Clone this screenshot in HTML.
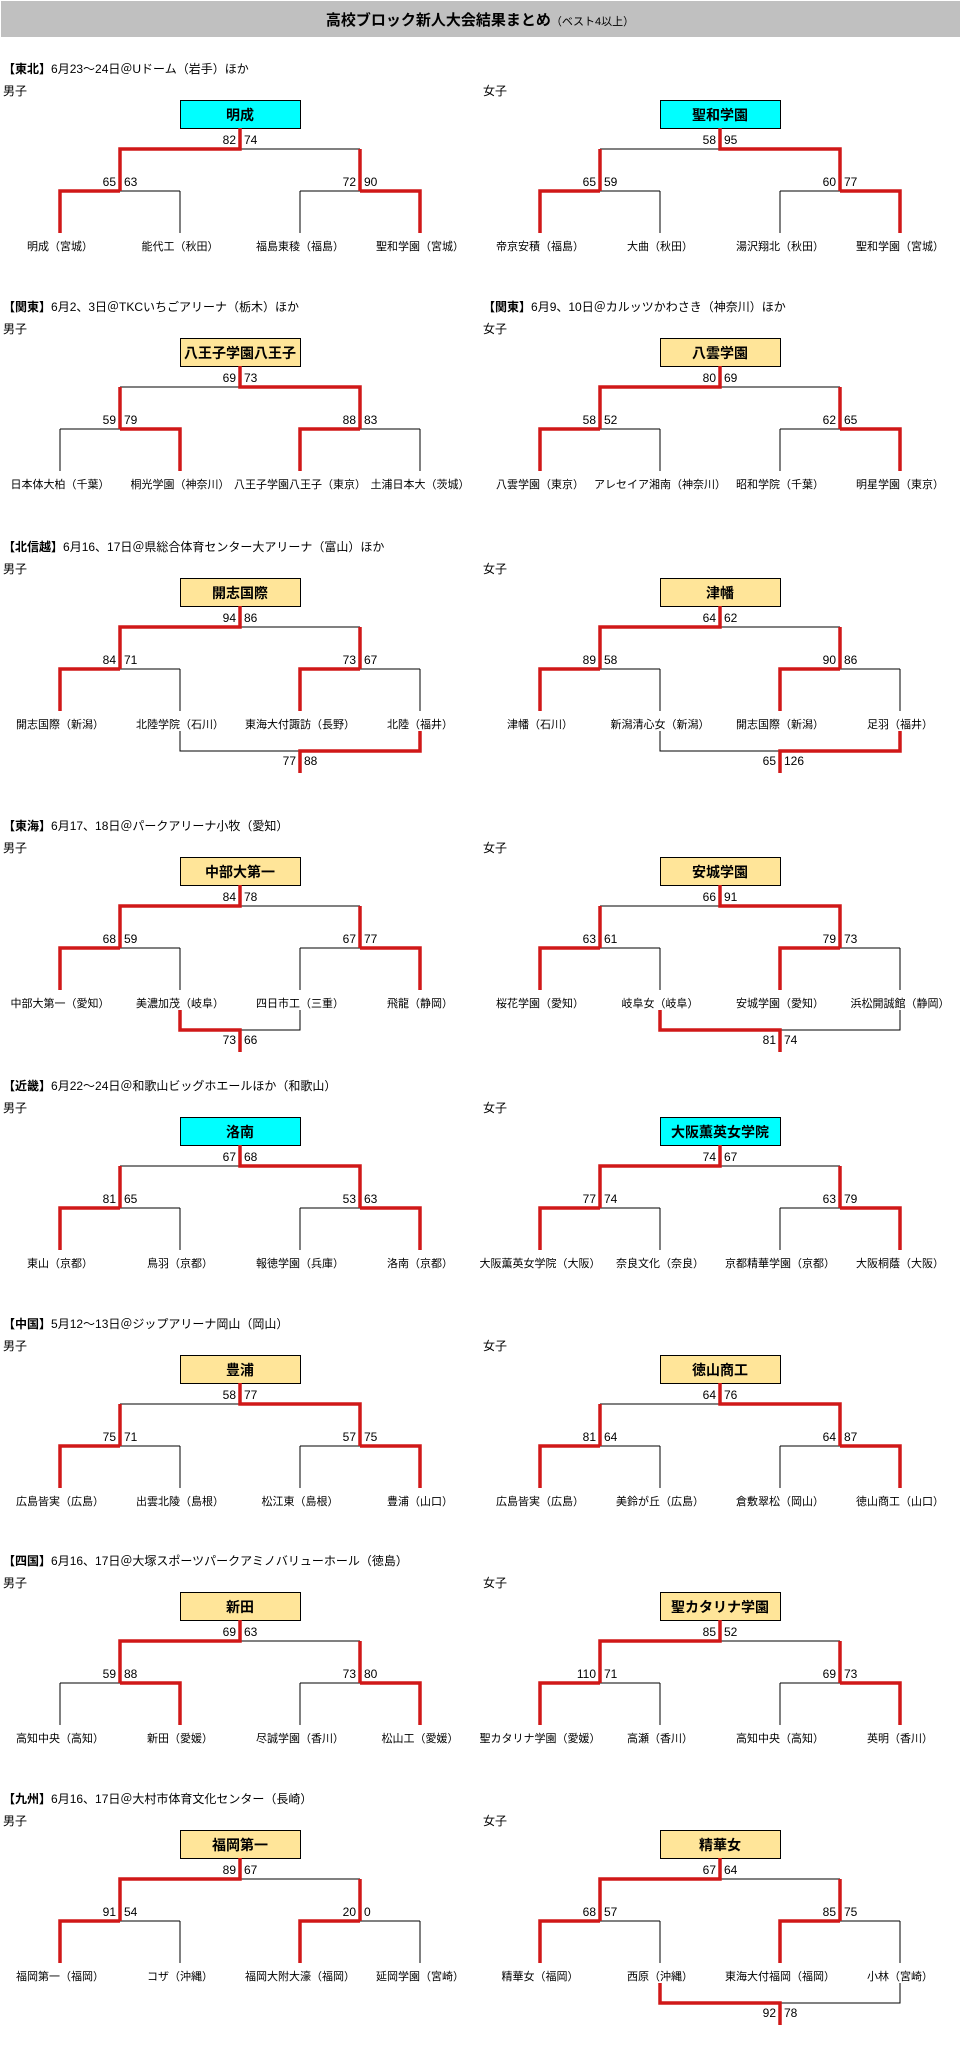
<!DOCTYPE html>
<html><head><meta charset="utf-8"><style>
html,body{margin:0;padding:0;background:#fff;}
svg{display:block;font-family:"Liberation Sans","Noto Sans CJK JP",sans-serif;}
.t{font-size:12px;fill:#000}
.n{font-size:11px;fill:#000;text-anchor:middle}
.s{font-size:12px;fill:#000}
.e{text-anchor:end}
.b{font-size:14px;font-weight:bold;text-anchor:middle}
.k{fill:none;stroke:#000;stroke-width:1}
.r{fill:none;stroke:#d01818;stroke-width:3.5}
.c{fill:#00ffff;stroke:#000}
.y{fill:#ffe599;stroke:#000}
</style></head><body>
<svg width="961" height="2047" viewBox="0 0 961 2047" xmlns="http://www.w3.org/2000/svg">
<rect x="1" y="1" width="959" height="36" fill="#c0c0c0"/>
<text x="480" y="25" text-anchor="middle"><tspan font-size="15" font-weight="bold">高校ブロック新人大会結果まとめ</tspan><tspan font-size="11">（ベスト4以上）</tspan></text>

<!-- 東北 -->
<g transform="translate(0,0)">
<text class="t" x="3" y="73"><tspan font-weight="bold">【東北】</tspan>6月23～24日＠Uドーム（岩手）ほか</text>
<text class="t" x="3" y="95">男子</text>
<g>
<rect class="c" x="180.5" y="100.5" width="120" height="28"/><text class="b" x="240" y="120">明成</text>
<path class="k" d="M120 149H360M60 191H180M300 191H420M60 191V233M180 191V233M300 191V233M420 191V233"/>
<path class="r" d="M240 128V149H120V191M360 149V191M120 191H60V233M360 191H420V233"/>
<text class="s e" x="236" y="144">82</text><text class="s" x="244" y="144">74</text>
<text class="s e" x="116" y="186">65</text><text class="s" x="124" y="186">63</text>
<text class="s e" x="356" y="186">72</text><text class="s" x="364" y="186">90</text>
<text class="n" x="60" y="250">明成（宮城）</text><text class="n" x="180" y="250">能代工（秋田）</text><text class="n" x="300" y="250">福島東稜（福島）</text><text class="n" x="420" y="250">聖和学園（宮城）</text>
</g>
<g transform="translate(480,0)">
<text class="t" x="3" y="95">女子</text>
<rect class="c" x="180.5" y="100.5" width="120" height="28"/><text class="b" x="240" y="120">聖和学園</text>
<path class="k" d="M120 149H360M60 191H180M300 191H420M60 191V233M180 191V233M300 191V233M420 191V233"/>
<path class="r" d="M240 128V149H360V191M120 149V191M120 191H60V233M360 191H420V233"/>
<text class="s e" x="236" y="144">58</text><text class="s" x="244" y="144">95</text>
<text class="s e" x="116" y="186">65</text><text class="s" x="124" y="186">59</text>
<text class="s e" x="356" y="186">60</text><text class="s" x="364" y="186">77</text>
<text class="n" x="60" y="250">帝京安積（福島）</text><text class="n" x="180" y="250">大曲（秋田）</text><text class="n" x="300" y="250">湯沢翔北（秋田）</text><text class="n" x="420" y="250">聖和学園（宮城）</text>
</g>
</g>

<!-- 関東 -->
<g transform="translate(0,238)">
<text class="t" x="3" y="73"><tspan font-weight="bold">【関東】</tspan>6月2、3日＠TKCいちごアリーナ（栃木）ほか</text>
<text class="t" x="3" y="95">男子</text>
<g>
<rect class="y" x="180.5" y="100.5" width="120" height="28"/><text class="b" x="240" y="120">八王子学園八王子</text>
<path class="k" d="M120 149H360M60 191H180M300 191H420M60 191V233M180 191V233M300 191V233M420 191V233"/>
<path class="r" d="M240 128V149H360V191M120 149V191M120 191H180V233M360 191H300V233"/>
<text class="s e" x="236" y="144">69</text><text class="s" x="244" y="144">73</text>
<text class="s e" x="116" y="186">59</text><text class="s" x="124" y="186">79</text>
<text class="s e" x="356" y="186">88</text><text class="s" x="364" y="186">83</text>
<text class="n" x="60" y="250">日本体大柏（千葉）</text><text class="n" x="180" y="250">桐光学園（神奈川）</text><text class="n" x="300" y="250" font-size="8">八王子学園八王子（東京）</text><text class="n" x="420" y="250">土浦日本大（茨城）</text>
</g>
<g transform="translate(480,0)">
<text class="t" x="3" y="73"><tspan font-weight="bold">【関東】</tspan>6月9、10日＠カルッツかわさき（神奈川）ほか</text>
<text class="t" x="3" y="95">女子</text>
<rect class="y" x="180.5" y="100.5" width="120" height="28"/><text class="b" x="240" y="120">八雲学園</text>
<path class="k" d="M120 149H360M60 191H180M300 191H420M60 191V233M180 191V233M300 191V233M420 191V233"/>
<path class="r" d="M240 128V149H120V191M360 149V191M120 191H60V233M360 191H420V233"/>
<text class="s e" x="236" y="144">80</text><text class="s" x="244" y="144">69</text>
<text class="s e" x="116" y="186">58</text><text class="s" x="124" y="186">52</text>
<text class="s e" x="356" y="186">62</text><text class="s" x="364" y="186">65</text>
<text class="n" x="60" y="250">八雲学園（東京）</text><text class="n" x="180" y="250" font-size="8">アレセイア湘南（神奈川）</text><text class="n" x="300" y="250">昭和学院（千葉）</text><text class="n" x="420" y="250">明星学園（東京）</text>
</g>
</g>

<!-- 北信越 -->
<g transform="translate(0,478)">
<text class="t" x="3" y="73"><tspan font-weight="bold">【北信越】</tspan>6月16、17日＠県総合体育センター大アリーナ（富山）ほか</text>
<text class="t" x="3" y="95">男子</text>
<g>
<rect class="y" x="180.5" y="100.5" width="120" height="28"/><text class="b" x="240" y="120">開志国際</text>
<path class="k" d="M120 149H360M60 191H180M300 191H420M60 191V233M180 191V233M300 191V233M420 191V233M180 253V273H420V253"/>
<path class="r" d="M240 128V149H120V191M360 149V191M120 191H60V233M360 191H300V233M420 253V273H300V295"/>
<text class="s e" x="236" y="144">94</text><text class="s" x="244" y="144">86</text>
<text class="s e" x="116" y="186">84</text><text class="s" x="124" y="186">71</text>
<text class="s e" x="356" y="186">73</text><text class="s" x="364" y="186">67</text>
<text class="s e" x="296" y="287">77</text><text class="s" x="304" y="287">88</text>
<text class="n" x="60" y="250">開志国際（新潟）</text><text class="n" x="180" y="250">北陸学院（石川）</text><text class="n" x="300" y="250">東海大付諏訪（長野）</text><text class="n" x="420" y="250">北陸（福井）</text>
</g>
<g transform="translate(480,0)">
<text class="t" x="3" y="95">女子</text>
<rect class="y" x="180.5" y="100.5" width="120" height="28"/><text class="b" x="240" y="120">津幡</text>
<path class="k" d="M120 149H360M60 191H180M300 191H420M60 191V233M180 191V233M300 191V233M420 191V233M180 253V273H420V253"/>
<path class="r" d="M240 128V149H120V191M360 149V191M120 191H60V233M360 191H300V233M420 253V273H300V295"/>
<text class="s e" x="236" y="144">64</text><text class="s" x="244" y="144">62</text>
<text class="s e" x="116" y="186">89</text><text class="s" x="124" y="186">58</text>
<text class="s e" x="356" y="186">90</text><text class="s" x="364" y="186">86</text>
<text class="s e" x="296" y="287">65</text><text class="s" x="304" y="287">126</text>
<text class="n" x="60" y="250">津幡（石川）</text><text class="n" x="180" y="250">新潟清心女（新潟）</text><text class="n" x="300" y="250">開志国際（新潟）</text><text class="n" x="420" y="250">足羽（福井）</text>
</g>
</g>

<!-- 東海 -->
<g transform="translate(0,757)">
<text class="t" x="3" y="73"><tspan font-weight="bold">【東海】</tspan>6月17、18日＠パークアリーナ小牧（愛知）</text>
<text class="t" x="3" y="95">男子</text>
<g>
<rect class="y" x="180.5" y="100.5" width="120" height="28"/><text class="b" x="240" y="120">中部大第一</text>
<path class="k" d="M120 149H360M60 191H180M300 191H420M60 191V233M180 191V233M300 191V233M420 191V233M180 253V273H300V253"/>
<path class="r" d="M240 128V149H120V191M360 149V191M120 191H60V233M360 191H420V233M180 253V273H240V295"/>
<text class="s e" x="236" y="144">84</text><text class="s" x="244" y="144">78</text>
<text class="s e" x="116" y="186">68</text><text class="s" x="124" y="186">59</text>
<text class="s e" x="356" y="186">67</text><text class="s" x="364" y="186">77</text>
<text class="s e" x="236" y="287">73</text><text class="s" x="244" y="287">66</text>
<text class="n" x="60" y="250">中部大第一（愛知）</text><text class="n" x="180" y="250">美濃加茂（岐阜）</text><text class="n" x="300" y="250">四日市工（三重）</text><text class="n" x="420" y="250">飛龍（静岡）</text>
</g>
<g transform="translate(480,0)">
<text class="t" x="3" y="95">女子</text>
<rect class="y" x="180.5" y="100.5" width="120" height="28"/><text class="b" x="240" y="120">安城学園</text>
<path class="k" d="M120 149H360M60 191H180M300 191H420M60 191V233M180 191V233M300 191V233M420 191V233M180 253V273H420V253"/>
<path class="r" d="M240 128V149H360V191M120 149V191M120 191H60V233M360 191H300V233M180 253V273H300V295"/>
<text class="s e" x="236" y="144">66</text><text class="s" x="244" y="144">91</text>
<text class="s e" x="116" y="186">63</text><text class="s" x="124" y="186">61</text>
<text class="s e" x="356" y="186">79</text><text class="s" x="364" y="186">73</text>
<text class="s e" x="296" y="287">81</text><text class="s" x="304" y="287">74</text>
<text class="n" x="60" y="250">桜花学園（愛知）</text><text class="n" x="180" y="250">岐阜女（岐阜）</text><text class="n" x="300" y="250">安城学園（愛知）</text><text class="n" x="420" y="250">浜松開誠館（静岡）</text>
</g>
</g>

<!-- 近畿 -->
<g transform="translate(0,1017)">
<text class="t" x="3" y="73"><tspan font-weight="bold">【近畿】</tspan>6月22～24日＠和歌山ビッグホエールほか（和歌山）</text>
<text class="t" x="3" y="95">男子</text>
<g>
<rect class="c" x="180.5" y="100.5" width="120" height="28"/><text class="b" x="240" y="120">洛南</text>
<path class="k" d="M120 149H360M60 191H180M300 191H420M60 191V233M180 191V233M300 191V233M420 191V233"/>
<path class="r" d="M240 128V149H360V191M120 149V191M120 191H60V233M360 191H420V233"/>
<text class="s e" x="236" y="144">67</text><text class="s" x="244" y="144">68</text>
<text class="s e" x="116" y="186">81</text><text class="s" x="124" y="186">65</text>
<text class="s e" x="356" y="186">53</text><text class="s" x="364" y="186">63</text>
<text class="n" x="60" y="250">東山（京都）</text><text class="n" x="180" y="250">鳥羽（京都）</text><text class="n" x="300" y="250">報徳学園（兵庫）</text><text class="n" x="420" y="250">洛南（京都）</text>
</g>
<g transform="translate(480,0)">
<text class="t" x="3" y="95">女子</text>
<rect class="c" x="180.5" y="100.5" width="120" height="28"/><text class="b" x="240" y="120">大阪薫英女学院</text>
<path class="k" d="M120 149H360M60 191H180M300 191H420M60 191V233M180 191V233M300 191V233M420 191V233"/>
<path class="r" d="M240 128V149H120V191M360 149V191M120 191H60V233M360 191H420V233"/>
<text class="s e" x="236" y="144">74</text><text class="s" x="244" y="144">67</text>
<text class="s e" x="116" y="186">77</text><text class="s" x="124" y="186">74</text>
<text class="s e" x="356" y="186">63</text><text class="s" x="364" y="186">79</text>
<text class="n" x="60" y="250" font-size="9.5">大阪薫英女学院（大阪）</text><text class="n" x="180" y="250">奈良文化（奈良）</text><text class="n" x="300" y="250">京都精華学園（京都）</text><text class="n" x="420" y="250">大阪桐蔭（大阪）</text>
</g>
</g>

<!-- 中国 -->
<g transform="translate(0,1255)">
<text class="t" x="3" y="73"><tspan font-weight="bold">【中国】</tspan>5月12～13日＠ジップアリーナ岡山（岡山）</text>
<text class="t" x="3" y="95">男子</text>
<g>
<rect class="y" x="180.5" y="100.5" width="120" height="28"/><text class="b" x="240" y="120">豊浦</text>
<path class="k" d="M120 149H360M60 191H180M300 191H420M60 191V233M180 191V233M300 191V233M420 191V233"/>
<path class="r" d="M240 128V149H360V191M120 149V191M120 191H60V233M360 191H420V233"/>
<text class="s e" x="236" y="144">58</text><text class="s" x="244" y="144">77</text>
<text class="s e" x="116" y="186">75</text><text class="s" x="124" y="186">71</text>
<text class="s e" x="356" y="186">57</text><text class="s" x="364" y="186">75</text>
<text class="n" x="60" y="250">広島皆実（広島）</text><text class="n" x="180" y="250">出雲北陵（島根）</text><text class="n" x="300" y="250">松江東（島根）</text><text class="n" x="420" y="250">豊浦（山口）</text>
</g>
<g transform="translate(480,0)">
<text class="t" x="3" y="95">女子</text>
<rect class="y" x="180.5" y="100.5" width="120" height="28"/><text class="b" x="240" y="120">徳山商工</text>
<path class="k" d="M120 149H360M60 191H180M300 191H420M60 191V233M180 191V233M300 191V233M420 191V233"/>
<path class="r" d="M240 128V149H360V191M120 149V191M120 191H60V233M360 191H420V233"/>
<text class="s e" x="236" y="144">64</text><text class="s" x="244" y="144">76</text>
<text class="s e" x="116" y="186">81</text><text class="s" x="124" y="186">64</text>
<text class="s e" x="356" y="186">64</text><text class="s" x="364" y="186">87</text>
<text class="n" x="60" y="250">広島皆実（広島）</text><text class="n" x="180" y="250">美鈴が丘（広島）</text><text class="n" x="300" y="250">倉敷翠松（岡山）</text><text class="n" x="420" y="250">徳山商工（山口）</text>
</g>
</g>

<!-- 四国 -->
<g transform="translate(0,1492)">
<text class="t" x="3" y="73"><tspan font-weight="bold">【四国】</tspan>6月16、17日＠大塚スポーツパークアミノバリューホール（徳島）</text>
<text class="t" x="3" y="95">男子</text>
<g>
<rect class="y" x="180.5" y="100.5" width="120" height="28"/><text class="b" x="240" y="120">新田</text>
<path class="k" d="M120 149H360M60 191H180M300 191H420M60 191V233M180 191V233M300 191V233M420 191V233"/>
<path class="r" d="M240 128V149H120V191M360 149V191M120 191H180V233M360 191H420V233"/>
<text class="s e" x="236" y="144">69</text><text class="s" x="244" y="144">63</text>
<text class="s e" x="116" y="186">59</text><text class="s" x="124" y="186">88</text>
<text class="s e" x="356" y="186">73</text><text class="s" x="364" y="186">80</text>
<text class="n" x="60" y="250">高知中央（高知）</text><text class="n" x="180" y="250">新田（愛媛）</text><text class="n" x="300" y="250">尽誠学園（香川）</text><text class="n" x="420" y="250">松山工（愛媛）</text>
</g>
<g transform="translate(480,0)">
<text class="t" x="3" y="95">女子</text>
<rect class="y" x="180.5" y="100.5" width="120" height="28"/><text class="b" x="240" y="120">聖カタリナ学園</text>
<path class="k" d="M120 149H360M60 191H180M300 191H420M60 191V233M180 191V233M300 191V233M420 191V233"/>
<path class="r" d="M240 128V149H120V191M360 149V191M120 191H60V233M360 191H420V233"/>
<text class="s e" x="236" y="144">85</text><text class="s" x="244" y="144">52</text>
<text class="s e" x="116" y="186">110</text><text class="s" x="124" y="186">71</text>
<text class="s e" x="356" y="186">69</text><text class="s" x="364" y="186">73</text>
<text class="n" x="60" y="250" font-size="10">聖カタリナ学園（愛媛）</text><text class="n" x="180" y="250">高瀬（香川）</text><text class="n" x="300" y="250">高知中央（高知）</text><text class="n" x="420" y="250">英明（香川）</text>
</g>
</g>

<!-- 九州 -->
<g transform="translate(0,1730)">
<text class="t" x="3" y="73"><tspan font-weight="bold">【九州】</tspan>6月16、17日＠大村市体育文化センター（長崎）</text>
<text class="t" x="3" y="95">男子</text>
<g>
<rect class="y" x="180.5" y="100.5" width="120" height="28"/><text class="b" x="240" y="120">福岡第一</text>
<path class="k" d="M120 149H360M60 191H180M300 191H420M60 191V233M180 191V233M300 191V233M420 191V233"/>
<path class="r" d="M240 128V149H120V191M360 149V191M120 191H60V233M360 191H300V233"/>
<text class="s e" x="236" y="144">89</text><text class="s" x="244" y="144">67</text>
<text class="s e" x="116" y="186">91</text><text class="s" x="124" y="186">54</text>
<text class="s e" x="356" y="186">20</text><text class="s" x="364" y="186">0</text>
<text class="n" x="60" y="250">福岡第一（福岡）</text><text class="n" x="180" y="250">コザ（沖縄）</text><text class="n" x="300" y="250">福岡大附大濠（福岡）</text><text class="n" x="420" y="250">延岡学園（宮崎）</text>
</g>
<g transform="translate(480,0)">
<text class="t" x="3" y="95">女子</text>
<rect class="y" x="180.5" y="100.5" width="120" height="28"/><text class="b" x="240" y="120">精華女</text>
<path class="k" d="M120 149H360M60 191H180M300 191H420M60 191V233M180 191V233M300 191V233M420 191V233M180 253V273H420V253"/>
<path class="r" d="M240 128V149H120V191M360 149V191M120 191H60V233M360 191H300V233M180 253V273H300V295"/>
<text class="s e" x="236" y="144">67</text><text class="s" x="244" y="144">64</text>
<text class="s e" x="116" y="186">68</text><text class="s" x="124" y="186">57</text>
<text class="s e" x="356" y="186">85</text><text class="s" x="364" y="186">75</text>
<text class="s e" x="296" y="287">92</text><text class="s" x="304" y="287">78</text>
<text class="n" x="60" y="250">精華女（福岡）</text><text class="n" x="180" y="250">西原（沖縄）</text><text class="n" x="300" y="250">東海大付福岡（福岡）</text><text class="n" x="420" y="250">小林（宮崎）</text>
</g>
</g>
</svg>
</body></html>
